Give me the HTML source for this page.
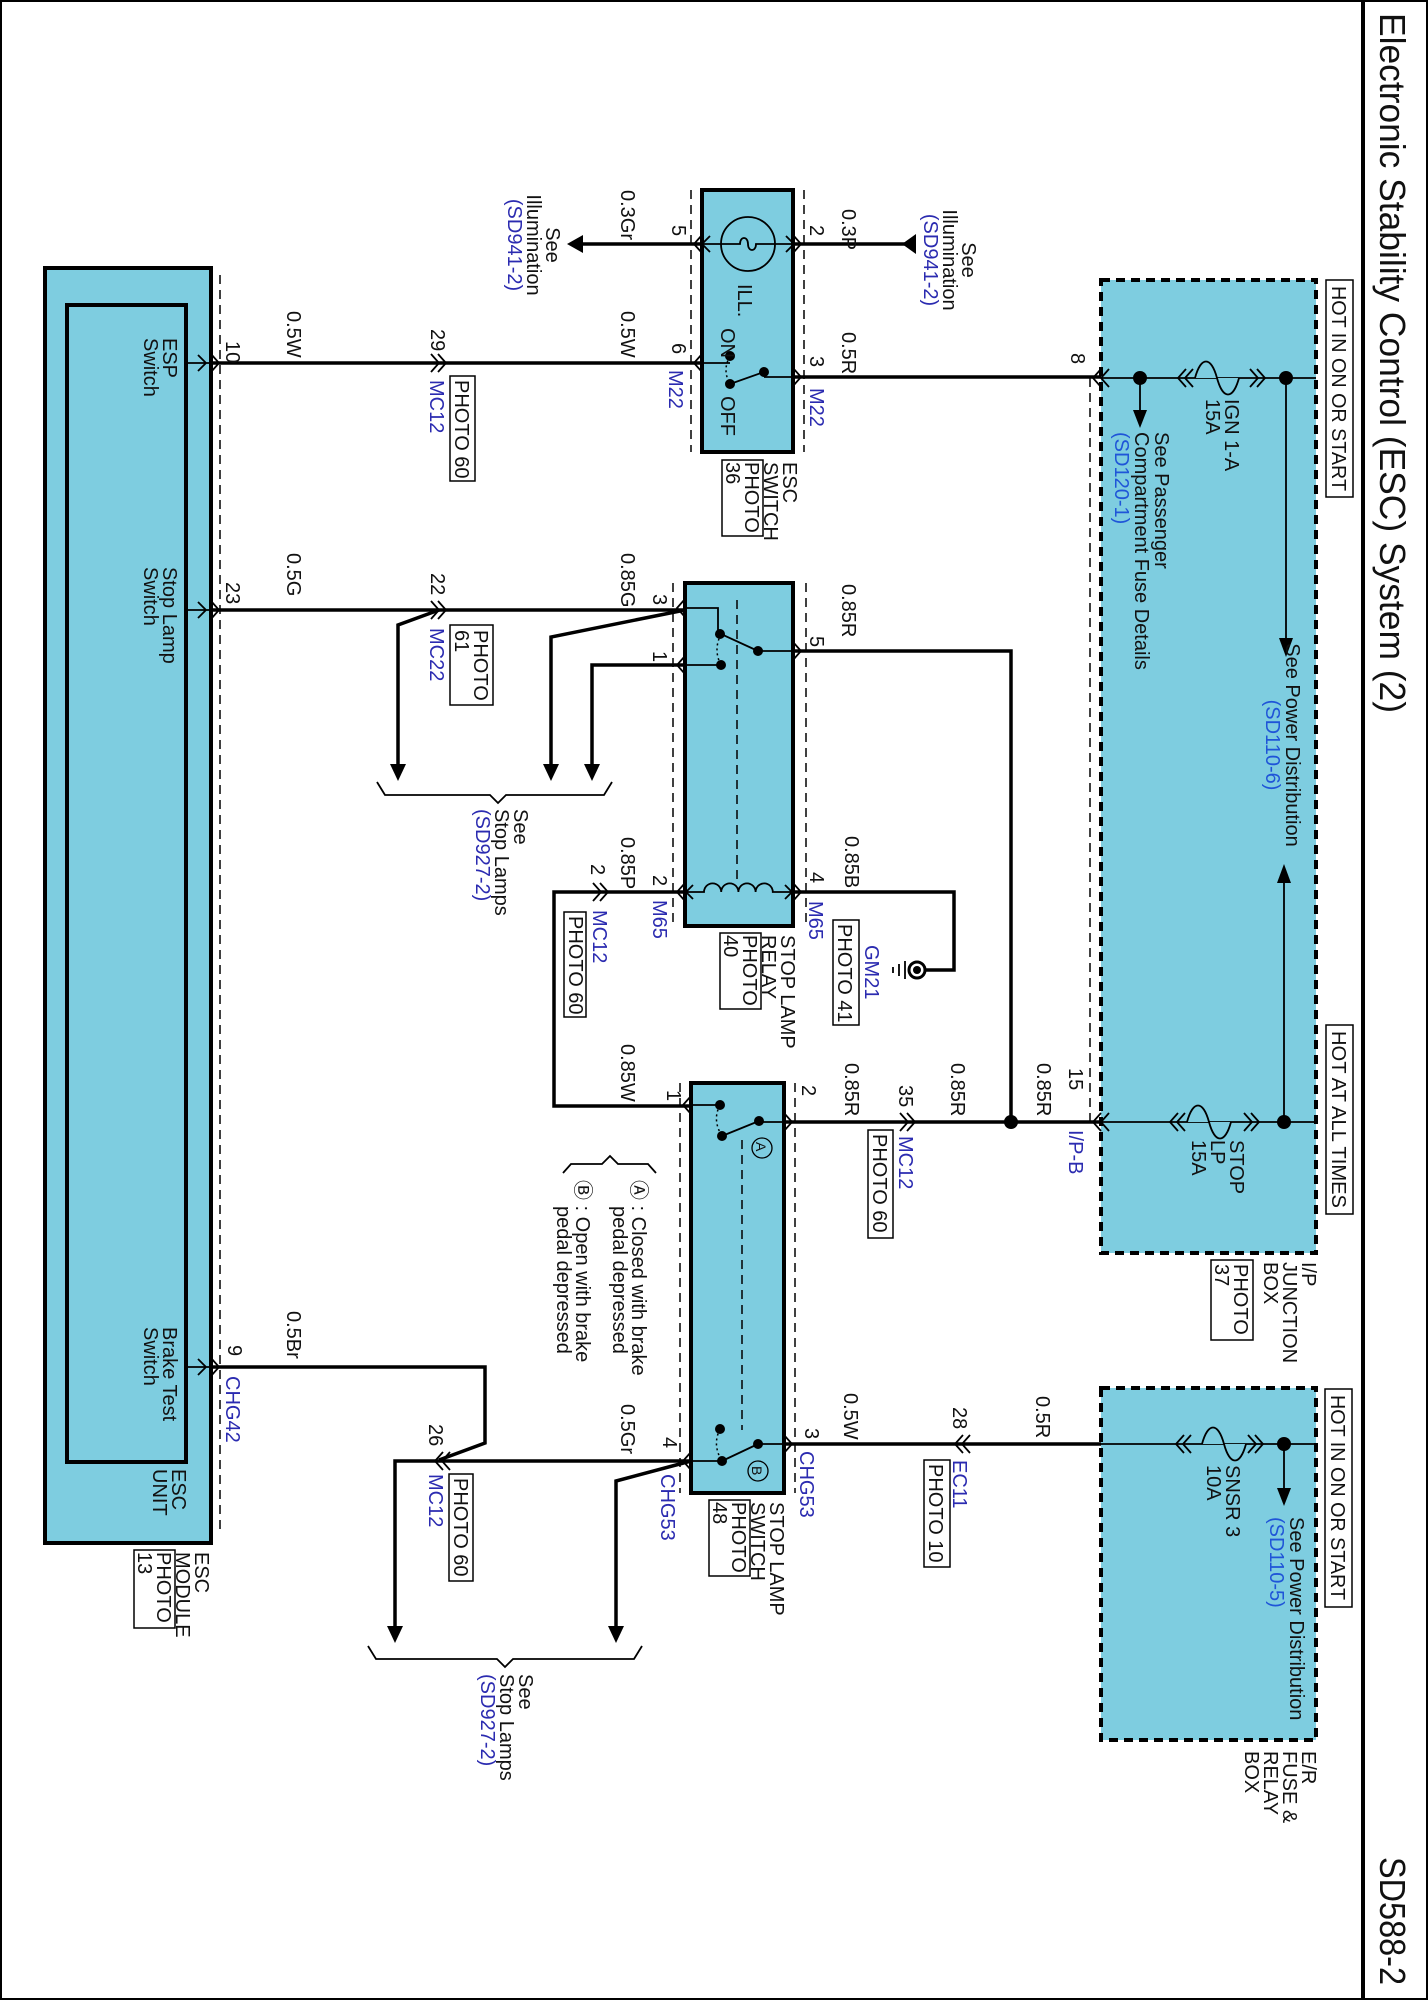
<!DOCTYPE html>
<html><head><meta charset="utf-8"><style>
html,body{margin:0;padding:0;background:#fff}
svg{display:block}
text{font-family:"Liberation Sans",Arial,sans-serif;font-size:20px;fill:#111}
.b{fill:#2b2bb0}
.bb{fill:#1f55d8}
.w{stroke:#000;stroke-width:3.5;fill:none}
.t{stroke:#000;stroke-width:1.8;fill:none}
.d{stroke:#000;stroke-width:1.5;fill:none;stroke-dasharray:9,6}
.box{fill:#7ecde0;stroke:#000;stroke-width:4}
.fb{fill:#7ecde0;stroke:#000;stroke-width:4;stroke-dasharray:9,6}
.pb{fill:none;stroke:#000;stroke-width:1.5}
</style></head><body>
<svg width="1428" height="2000" viewBox="0 0 1428 2000" xmlns="http://www.w3.org/2000/svg">
<rect x="1" y="1" width="1426" height="1998" fill="none" stroke="#000" stroke-width="2"/>
<line x1="1363" y1="0" x2="1363" y2="2000" stroke="#000" stroke-width="4"/>
<text transform="translate(1380,13) rotate(90)" style="font-size:36px" textLength="700" lengthAdjust="spacingAndGlyphs">Electronic Stability Control (ESC) System (2)</text>
<text transform="translate(1380,1857) rotate(90)" style="font-size:36px" textLength="128" lengthAdjust="spacingAndGlyphs">SD588-2</text>

<rect class="box" x="45" y="268" width="166" height="1275"/>
<rect class="box" x="67" y="305" width="119" height="1157"/>
<line class="d" x1="220" y1="275" x2="220" y2="1535"/>
<g class="t">
<path d="M186,363H211M198,355L206,363L198,371M211,354L219,363L211,372"/>
<path d="M186,610H211M198,602L206,610L198,618M211,601L219,610L211,619"/>
<path d="M186,1367H211M198,1359L206,1367L198,1375M211,1358L219,1367L211,1376"/>
</g>
<text transform="translate(163,338) rotate(90)"><tspan x="0">ESP</tspan><tspan x="0" dy="19">Switch</tspan></text>
<text transform="translate(163,567) rotate(90)"><tspan x="0">Stop Lamp</tspan><tspan x="0" dy="19">Switch</tspan></text>
<text transform="translate(163,1327) rotate(90)"><tspan x="0">Brake Test</tspan><tspan x="0" dy="19">Switch</tspan></text>
<text transform="translate(172,1469) rotate(90)"><tspan x="0">ESC</tspan><tspan x="0" dy="19">UNIT</tspan></text>
<text transform="translate(195,1552) rotate(90)"><tspan x="0">ESC</tspan><tspan x="0" dy="19">MODULE</tspan><tspan x="0" dy="19">PHOTO</tspan><tspan x="0" dy="19">13</tspan></text>
<rect class="pb" x="134" y="1550" width="41" height="78"/>

<rect class="box" x="702" y="190" width="91" height="262"/>
<line class="d" x1="691" y1="190" x2="691" y2="452"/>
<line class="d" x1="804" y1="190" x2="804" y2="452"/>
<circle cx="748" cy="244" r="27" fill="none" stroke="#000" stroke-width="1.8"/>
<path class="t" d="M702,244H740c0,-8 8,-8 8,0c0,8 8,8 8,0H793"/>
<g class="t">
<path d="M710,236L702,244L710,252M786,236L794,244L786,252"/>
<path d="M702,235L694,244L702,253M793,235L801,244L793,253"/>
<path d="M702,363H730M764,377H793M730,384L764,372"/>
<path d="M702,354L694,363L702,372M793,368L801,377L793,386"/>
</g>
<path d="M730,356Q722,370 730,384" fill="none" stroke="#000" stroke-width="1.5" stroke-dasharray="2,3"/>
<circle cx="730" cy="356" r="5"/><circle cx="730" cy="384" r="5"/><circle cx="764" cy="372" r="5"/>
<text transform="translate(738,284) rotate(90)">ILL.</text>
<text transform="translate(721,328) rotate(90)">ON</text>
<text transform="translate(721,396) rotate(90)">OFF</text>
<text transform="translate(783,462) rotate(90)"><tspan x="0">ESC</tspan><tspan x="0" dy="19">SWITCH</tspan><tspan x="0" dy="19">PHOTO</tspan><tspan x="0" dy="19">36</tspan></text>
<rect class="pb" x="722" y="460" width="41" height="76"/>

<rect class="box" x="685" y="583" width="108" height="343"/>
<line class="d" x1="673" y1="583" x2="673" y2="926"/>
<line class="d" x1="806" y1="583" x2="806" y2="926"/>
<line class="d" x1="737" y1="600" x2="737" y2="880"/>
<g class="t">
<path d="M685,608H718V634M721,634L758,651M758,651H793M685,665H721"/>
<path d="M685,599L677,608L685,617M685,656L677,665L685,674M793,642L801,651L793,660"/>
<path d="M685,892H704a8.6,8.6 0 0 1 17.2,0a8.6,8.6 0 0 1 17.2,0a8.6,8.6 0 0 1 17.2,0a8.6,8.6 0 0 1 17.2,0H793"/>
<path d="M685,883L677,892L685,901M793,883L801,892L793,901M693,885L686,892L693,899M785,885L792,892L785,899"/>
</g>
<path d="M721,634Q713,650 721,665" fill="none" stroke="#000" stroke-width="1.5" stroke-dasharray="2,3"/>
<circle cx="720" cy="634" r="5"/><circle cx="758" cy="651" r="5"/><circle cx="721" cy="665" r="5"/>
<text transform="translate(781,935) rotate(90)"><tspan x="0">STOP LAMP</tspan><tspan x="0" dy="19">RELAY</tspan><tspan x="0" dy="19">PHOTO</tspan><tspan x="0" dy="19">40</tspan></text>
<rect class="pb" x="720" y="933" width="41" height="76"/>

<rect class="box" x="691" y="1083" width="93" height="410"/>
<line class="d" x1="680" y1="1083" x2="680" y2="1493"/>
<line class="d" x1="795" y1="1083" x2="795" y2="1493"/>
<line class="d" x1="742" y1="1140" x2="742" y2="1430"/>
<g class="t">
<path d="M691,1105H720M722,1136L759,1121M759,1122H784"/>
<path d="M691,1096L683,1105L691,1114M784,1113L792,1122L784,1131"/>
<path d="M722,1461L758,1444M758,1444H784M691,1461H722"/>
<path d="M691,1452L683,1461L691,1470M784,1435L792,1444L784,1453"/>
</g>
<path d="M720,1105Q712,1120 722,1136" fill="none" stroke="#000" stroke-width="1.5" stroke-dasharray="2,3"/>
<path d="M720,1429Q712,1445 722,1461" fill="none" stroke="#000" stroke-width="1.5" stroke-dasharray="2,3"/>
<circle cx="720" cy="1105" r="5"/><circle cx="722" cy="1136" r="5"/><circle cx="759" cy="1121" r="5"/>
<circle cx="720" cy="1429" r="5"/><circle cx="722" cy="1461" r="5"/><circle cx="758" cy="1444" r="5"/>
<circle cx="762" cy="1148" r="10" fill="none" stroke="#000" stroke-width="1.3"/>
<text transform="translate(756,1142) rotate(90)" style="font-size:14px">A</text>
<circle cx="758" cy="1471" r="10" fill="none" stroke="#000" stroke-width="1.3"/>
<text transform="translate(752,1466) rotate(90)" style="font-size:14px">B</text>
<text transform="translate(770,1502) rotate(90)"><tspan x="0">STOP LAMP</tspan><tspan x="0" dy="19">SWITCH</tspan><tspan x="0" dy="19">PHOTO</tspan><tspan x="0" dy="19">48</tspan></text>
<rect class="pb" x="709" y="1500" width="41" height="76"/>

<rect class="fb" x="1101" y="280" width="215" height="973"/>
<rect class="fb" x="1101" y="1388" width="215" height="352"/>
<line class="d" x1="1090" y1="378" x2="1090" y2="1122"/>
<g class="t">
<path d="M1101,378H1316M1101,1122H1316M1101,1444H1316"/>
<path d="M1109,369L1101,378L1109,387M1101,369L1093,378L1101,387"/>
<path d="M1109,1113L1101,1122L1109,1131M1101,1113L1093,1122L1101,1131"/>
<path d="M1286,378V640M1140,378V412M1284,1122V880M1284,1444V1490"/>
</g>
<g fill="#7ecde0" stroke="#000" stroke-width="1.8">
<path d="M1195,378c6,-22 16,-22 22,0s16,22 22,0"/>
<path d="M1187,1122c6,-22 16,-22 22,0s16,22 22,0"/>
<path d="M1202,1444c6,-22 16,-22 22,0s16,22 22,0"/>
</g>
<g class="t">
<path d="M1186,369L1178,378L1186,387M1193,369L1185,378L1193,387M1250,369L1258,378L1250,387M1257,369L1265,378L1257,387"/>
<path d="M1178,1113L1170,1122L1178,1131M1185,1113L1177,1122L1185,1131M1244,1113L1252,1122L1244,1131M1251,1113L1259,1122L1251,1131"/>
<path d="M1184,1435L1176,1444L1184,1453M1191,1435L1183,1444L1191,1453M1248,1435L1256,1444L1248,1453M1255,1435L1263,1444L1255,1453"/>
</g>
<circle cx="1140" cy="378" r="7"/><circle cx="1286" cy="378" r="7"/>
<circle cx="1284" cy="1122" r="7"/><circle cx="1284" cy="1444" r="7"/>
<polygon points="1133,410 1147,410 1140,428"/>
<polygon points="1279,638 1293,638 1286,657"/>
<polygon points="1277,883 1291,883 1284,864"/>
<polygon points="1277,1488 1291,1488 1284,1506"/>
<rect class="pb" x="1326" y="280" width="27" height="217" fill="#fff"/>
<text transform="translate(1332,286) rotate(90)" textLength="205" lengthAdjust="spacingAndGlyphs">HOT IN ON OR START</text>
<rect class="pb" x="1326" y="1025" width="27" height="189" fill="#fff"/>
<text transform="translate(1332,1031) rotate(90)" textLength="177" lengthAdjust="spacingAndGlyphs">HOT AT ALL TIMES</text>
<rect class="pb" x="1325" y="1389" width="27" height="218" fill="#fff"/>
<text transform="translate(1331,1395) rotate(90)" textLength="205" lengthAdjust="spacingAndGlyphs">HOT IN ON OR START</text>
<text transform="translate(1225,399) rotate(90)"><tspan x="0">IGN 1-A</tspan><tspan x="0" dy="19">15A</tspan></text>
<text transform="translate(1155,432) rotate(90)"><tspan x="0">See Passenger</tspan><tspan x="0" dy="20">Compartment Fuse Details</tspan><tspan x="0" dy="20" class="bb">(SD120-1)</tspan></text>
<text transform="translate(1286,745) rotate(90)" text-anchor="middle"><tspan x="0">See Power Distribution</tspan><tspan x="0" dy="20" class="bb">(SD110-6)</tspan></text>
<text transform="translate(1230,1140) rotate(90)"><tspan x="0">STOP</tspan><tspan x="0" dy="19">LP</tspan><tspan x="0" dy="19">15A</tspan></text>
<text transform="translate(1226,1465) rotate(90)"><tspan x="0">SNSR 3</tspan><tspan x="0" dy="19">10A</tspan></text>
<text transform="translate(1290,1517) rotate(90)"><tspan x="0">See Power Distribution</tspan><tspan x="0" dy="20" class="bb">(SD110-5)</tspan></text>
<text transform="translate(1302,1262) rotate(90)"><tspan x="0">I/P</tspan><tspan x="0" dy="19">JUNCTION</tspan><tspan x="0" dy="19">BOX</tspan></text>
<text transform="translate(1234,1264) rotate(90)"><tspan x="0">PHOTO</tspan><tspan x="0" dy="19">37</tspan></text>
<rect class="pb" x="1211" y="1260" width="42" height="80"/>
<text transform="translate(1302,1751) rotate(90)"><tspan x="0">E/R</tspan><tspan x="0" dy="19">FUSE &amp;</tspan><tspan x="0" dy="19">RELAY</tspan><tspan x="0" dy="19">BOX</tspan></text>

<g class="w">
<path d="M211,363H702"/>
<path d="M793,377H1101"/>
<path d="M702,244H578"/>
<path d="M793,244H905"/>
<path d="M211,610H685"/>
<path d="M439,610L398,625V766"/>
<path d="M685,610L551,637V766"/>
<path d="M685,665H592V766"/>
<path d="M793,651H1011V1122"/>
<path d="M685,892H554V1106H691"/>
<path d="M793,892H954V970H925"/>
<path d="M784,1122H1101"/>
<path d="M784,1444H1101"/>
<path d="M211,1367H485V1443L439,1460"/>
<path d="M691,1461H395V1628"/>
<path d="M691,1461L616,1481V1628"/>
</g>
<circle cx="1011" cy="1122" r="7"/>
<polygon points="567,244 583,235 583,253"/>
<polygon points="902,244 916,234 916,254"/>
<polygon points="390,764 406,764 398,781"/>
<polygon points="543,764 559,764 551,781"/>
<polygon points="584,764 600,764 592,781"/>
<polygon points="387,1626 403,1626 395,1643"/>
<polygon points="608,1626 624,1626 616,1643"/>
<g class="t" stroke-width="2.2">
<path d="M431,354L439,363L431,372M438,354L446,363L438,372"/>
<path d="M431,601L439,610L431,619M438,601L446,610L438,619"/>
<path d="M593,883L601,892L593,901M600,883L608,892L600,901"/>
<path d="M900,1113L908,1122L900,1131M907,1113L915,1122L907,1131"/>
<path d="M963,1435L955,1444L963,1453M970,1435L962,1444L970,1453"/>
<path d="M443,1452L435,1461L443,1470M450,1452L442,1461L450,1470"/>
</g>
<circle cx="917" cy="970" r="8" fill="#fff" stroke="#000" stroke-width="3"/>
<circle cx="917" cy="970" r="4"/>
<path class="t" d="M905,961V979M899,964V976M893,967V973"/>
<path class="t" stroke-width="1.5" d="M377,782L385,795H490L498,803L506,795H604L612,782"/>
<path class="t" stroke-width="1.5" d="M368,1646L376,1659H497L505,1667L513,1659H634L642,1646"/>
<path class="t" stroke-width="1.5" d="M563,1173L571,1164H602L610,1156L618,1164H648L656,1173"/>

<text transform="translate(287,311) rotate(90)">0.5W</text>
<text transform="translate(621,311) rotate(90)">0.5W</text>
<text transform="translate(226,341) rotate(90)">10</text>
<text transform="translate(431,329) rotate(90)">29</text>
<text transform="translate(430,380) rotate(90)" class="b">MC12</text>
<text transform="translate(455,380) rotate(90)">PHOTO 60</text>
<rect class="pb" x="450" y="376" width="25" height="105"/>
<text transform="translate(621,190) rotate(90)">0.3Gr</text>
<text transform="translate(672,225) rotate(90)">5</text>
<text transform="translate(672,343) rotate(90)">6</text>
<text transform="translate(669,370) rotate(90)" class="b">M22</text>
<text transform="translate(842,209) rotate(90)">0.3P</text>
<text transform="translate(810,225) rotate(90)">2</text>
<text transform="translate(810,356) rotate(90)">3</text>
<text transform="translate(810,388) rotate(90)" class="b">M22</text>
<text transform="translate(842,332) rotate(90)">0.5R</text>
<text transform="translate(1071,353) rotate(90)">8</text>
<text transform="translate(546,245) rotate(90)" text-anchor="middle"><tspan x="0">See</tspan><tspan x="0" dy="19">Illumination</tspan><tspan x="0" dy="19" class="b">(SD941-2)</tspan></text>
<text transform="translate(962,260) rotate(90)" text-anchor="middle"><tspan x="0">See</tspan><tspan x="0" dy="19">Illumination</tspan><tspan x="0" dy="19" class="b">(SD941-2)</tspan></text>

<text transform="translate(287,553) rotate(90)">0.5G</text>
<text transform="translate(621,553) rotate(90)">0.85G</text>
<text transform="translate(226,582) rotate(90)">23</text>
<text transform="translate(431,573) rotate(90)">22</text>
<text transform="translate(653,594) rotate(90)">3</text>
<text transform="translate(653,651) rotate(90)">1</text>
<text transform="translate(430,628) rotate(90)" class="b">MC22</text>
<text transform="translate(474,630) rotate(90)"><tspan x="0">PHOTO</tspan><tspan x="0" dy="19">61</tspan></text>
<rect class="pb" x="450" y="625" width="43" height="80"/>
<text transform="translate(842,584) rotate(90)">0.85R</text>
<text transform="translate(810,636) rotate(90)">5</text>
<text transform="translate(514,809) rotate(90)"><tspan x="0">See</tspan><tspan x="0" dy="19">Stop Lamps</tspan><tspan x="0" dy="19" class="b">(SD927-2)</tspan></text>

<text transform="translate(621,837) rotate(90)">0.85P</text>
<text transform="translate(591,864) rotate(90)">2</text>
<text transform="translate(653,875) rotate(90)">2</text>
<text transform="translate(653,900) rotate(90)" class="b">M65</text>
<text transform="translate(593,910) rotate(90)" class="b">MC12</text>
<text transform="translate(569,916) rotate(90)">PHOTO 60</text>
<rect class="pb" x="564" y="912" width="22" height="105"/>
<text transform="translate(845,836) rotate(90)">0.85B</text>
<text transform="translate(810,872) rotate(90)">4</text>
<text transform="translate(809,901) rotate(90)" class="b">M65</text>
<text transform="translate(865,945) rotate(90)" class="b">GM21</text>
<text transform="translate(838,924) rotate(90)">PHOTO 41</text>
<rect class="pb" x="833" y="920" width="26" height="105"/>

<text transform="translate(621,1044) rotate(90)">0.85W</text>
<text transform="translate(667,1090) rotate(90)">1</text>
<text transform="translate(845,1063) rotate(90)">0.85R</text>
<text transform="translate(951,1063) rotate(90)">0.85R</text>
<text transform="translate(1037,1063) rotate(90)">0.85R</text>
<text transform="translate(802,1085) rotate(90)">2</text>
<text transform="translate(899,1085) rotate(90)">35</text>
<text transform="translate(899,1136) rotate(90)" class="b">MC12</text>
<text transform="translate(873,1134) rotate(90)">PHOTO 60</text>
<rect class="pb" x="868" y="1130" width="25" height="108"/>
<text transform="translate(1069,1068) rotate(90)">15</text>
<text transform="translate(1069,1130) rotate(90)" class="b">I/P-B</text>

<text transform="translate(632,1180) rotate(90)"><tspan x="0">Ⓐ : Closed with brake</tspan><tspan x="26" dy="19">pedal depressed</tspan></text>
<text transform="translate(576,1180) rotate(90)"><tspan x="0">Ⓑ : Open with brake</tspan><tspan x="26" dy="19">pedal depressed</tspan></text>

<text transform="translate(287,1311) rotate(90)">0.5Br</text>
<text transform="translate(228,1345) rotate(90)">9</text>
<text transform="translate(226,1376) rotate(90)" class="b">CHG42</text>
<text transform="translate(429,1424) rotate(90)">26</text>
<text transform="translate(429,1474) rotate(90)" class="b">MC12</text>
<text transform="translate(454,1478) rotate(90)">PHOTO 60</text>
<rect class="pb" x="449" y="1474" width="24" height="107"/>
<text transform="translate(621,1404) rotate(90)">0.5Gr</text>
<text transform="translate(663,1437) rotate(90)">4</text>
<text transform="translate(661,1474) rotate(90)" class="b">CHG53</text>
<text transform="translate(519,1674) rotate(90)"><tspan x="0">See</tspan><tspan x="0" dy="19">Stop Lamps</tspan><tspan x="0" dy="19" class="b">(SD927-2)</tspan></text>

<text transform="translate(844,1393) rotate(90)">0.5W</text>
<text transform="translate(805,1428) rotate(90)">3</text>
<text transform="translate(800,1451) rotate(90)" class="b">CHG53</text>
<text transform="translate(953,1407) rotate(90)">28</text>
<text transform="translate(953,1460) rotate(90)" class="b">EC11</text>
<text transform="translate(929,1464) rotate(90)">PHOTO 10</text>
<rect class="pb" x="924" y="1460" width="26" height="107"/>
<text transform="translate(1036,1396) rotate(90)">0.5R</text>
</svg>
</body></html>
